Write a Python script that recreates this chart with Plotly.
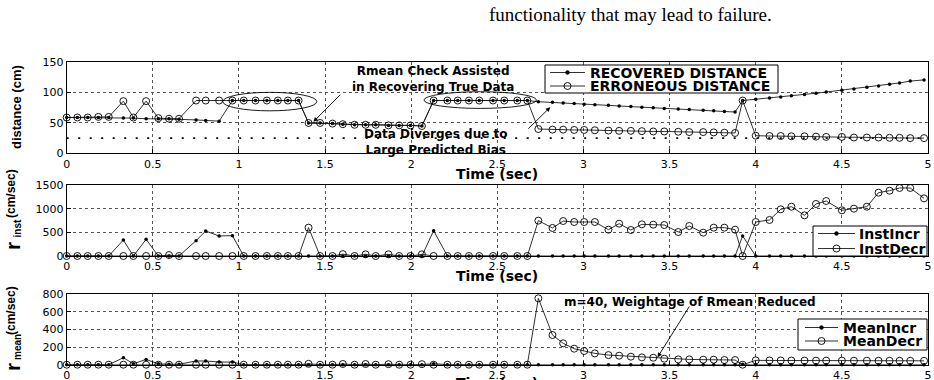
import plotly.graph_objects as go

# ---------------- data ----------------
time_s = [0.000, 0.062, 0.122, 0.184, 0.244, 0.329, 0.387, 0.461, 0.532, 0.594,
          0.652, 0.751, 0.807, 0.885, 0.962, 1.028, 1.096, 1.162, 1.226, 1.284,
          1.346, 1.404, 1.471, 1.543, 1.603, 1.671, 1.735, 1.794, 1.868, 1.930,
          1.996, 2.062, 2.130, 2.210, 2.270, 2.335, 2.395, 2.475, 2.540, 2.616,
          2.674, 2.738, 2.820, 2.882, 2.946, 3.004, 3.066, 3.145, 3.207, 3.275,
          3.339, 3.405, 3.469, 3.550, 3.614, 3.695, 3.756, 3.818, 3.880, 3.924,
          4.000, 4.080, 4.145, 4.207, 4.283, 4.350, 4.409, 4.500, 4.570, 4.645,
          4.713, 4.777, 4.835, 4.897, 4.977]

recovered_distance = [59, 59, 59, 59, 59, 58, 58, 57, 57, 57,
                      56, 55, 54, 53, 87, 87, 87, 87, 87, 87,
                      87, 50, 50, 49, 48, 47, 47, 47, 46, 46,
                      46, 45, 87, 87, 87, 87, 87, 87, 87, 87,
                      87, 85, 84, 83, 82, 81, 80, 79, 78, 77,
                      76, 75, 74, 73, 72, 71, 70, 69, 68, 87,
                      89, 91, 93, 95, 97, 99, 101, 104, 106, 109,
                      111, 114, 116, 119, 121]

erroneous_distance = [59, 59, 59, 60, 60, 86, 59, 86, 58, 57,
                      57, 87, 87, 87, 87, 87, 87, 87, 87, 87,
                      87, 50, 50, 49, 48, 47, 47, 47, 46, 46,
                      46, 45, 87, 87, 87, 87, 87, 87, 87, 87,
                      87, 40, 39, 39, 38.5, 38.5, 38, 37.5, 37, 37,
                      36.5, 36, 36, 35.5, 35, 35, 34.5, 34, 33.5, 87,
                      29, 28.5, 28.5, 28, 28, 27.5, 27, 27, 26, 26,
                      26, 25.5, 25.5, 25, 25]

distance_floor = 25

inst_incr = [0, 0, 0, 0, 0, 338, 0, 352, 0, 0,
             0, 324, 528, 423, 430, 0, 0, 0, 0, 0,
             0, 0, 0, 0, 0, 0, 0, 0, 0, 0,
             0, 0, 535, 0, 0, 0, 0, 0, 0, 0,
             0, 0, 0, 0, 0, 0, 0, 0, 0, 0,
             0, 0, 0, 0, 0, 0, 0, 0, 0, 423,
             0, 0, 0, 0, 0, 0, 0, 0, 0, 0,
             0, 0, 0, 0, 0]

inst_decr = [0, 0, 0, 0, 0, 0, 0, 0, 0, 20,
             0, 0, 0, 0, 0, 0, 0, 0, 0, 0,
             0, 599, 0, 0, 40, 0, 35, 0, 35, 0,
             0, 35, 0, 0, 0, 0, 0, 0, 0, 0,
             0, 747, 592, 739, 718, 718, 718, 556, 683, 549,
             669, 662, 655, 507, 634, 493, 599, 599, 556, 0,
             718, 761, 986, 1042, 859, 1099, 1162, 965, 1000, 1042,
             1338, 1380, 1437, 1437, 1218]

mean_incr = [0, 0, 0, 0, 0, 79, 10, 60, 10, 5,
             5, 42, 42, 30, 30, 0, 0, 0, 0, 0,
             0, 0, 0, 0, 0, 0, 0, 0, 0, 0,
             0, 0, 12, 0, 0, 0, 0, 0, 0, 0,
             0, 0, 0, 0, 0, 0, 0, 0, 0, 0,
             0, 0, 0, 0, 0, 0, 0, 0, 0, 5,
             0, 0, 0, 0, 0, 0, 0, 0, 0, 0,
             0, 0, 0, 0, 0]

mean_decr = [0, 0, 0, 0, 0, 0, 0, 0, 0, 0,
             0, 0, 0, 0, 0, 0, 0, 0, 0, 0,
             0, 10, 0, 0, 8, 0, 8, 0, 6, 0,
             0, 6, 0, 0, 0, 0, 0, 0, 0, 0,
             0, 751, 336, 242, 181, 155, 128, 109, 102, 91,
             83, 79, 68, 60, 60, 57, 57, 53, 53, 0,
             49, 48, 48, 47, 47, 46, 46, 46, 45, 45,
             45, 44, 44, 44, 44]

series_names = {
    "recovered": "RECOVERED DISTANCE", "erroneous": "ERRONEOUS DISTANCE",
    "inst_incr": "InstIncr", "inst_decr": "InstDecr",
    "mean_incr": "MeanIncr", "mean_decr": "MeanDecr",
}

x_ticks = [0, 0.5, 1, 1.5, 2, 2.5, 3, 3.5, 4, 4.5, 5]
x_tick_labels = ["0", "0.5", "1", "1.5", "2", "2.5", "3", "3.5", "4", "4.5", "5"]
dist_ticks = [0, 50, 100, 150]
inst_ticks = [0, 500, 1000, 1500]
mean_ticks = [0, 200, 400, 600, 800]

# ---------------- helpers ----------------
W, H = 934, 380
def px(x):
    return x / W
def py(y):
    return 1 - y / H

LINE = dict(color="#1a1a1a", width=0.9)
DOT = dict(symbol="circle", size=3.5, color="black")
RING = dict(symbol="circle-open", size=7, color="black", line=dict(width=0.9, color="black"))

fig = go.Figure()

def add_pair(x, y1, y2, n1, n2, xa, ya):
    fig.add_trace(go.Scatter(x=x, y=y1, name=n1, mode="lines+markers", line=LINE,
                             marker=DOT, xaxis=xa, yaxis=ya, cliponaxis=False))
    fig.add_trace(go.Scatter(x=x, y=y2, name=n2, mode="lines+markers", line=LINE,
                             marker=RING, xaxis=xa, yaxis=ya, cliponaxis=False))

fig.add_trace(go.Scatter(x=[x_ticks[0], x_ticks[-1]], y=[distance_floor, distance_floor],
                         mode="lines", line=dict(color="black", width=1.8, dash="2px,9.5px"),
                         xaxis="x", yaxis="y", hoverinfo="skip"))
add_pair(time_s, recovered_distance, erroneous_distance,
         series_names["recovered"], series_names["erroneous"], "x", "y")
add_pair(time_s, inst_incr, inst_decr, series_names["inst_incr"], series_names["inst_decr"], "x2", "y2")
add_pair(time_s, mean_incr, mean_decr, series_names["mean_incr"], series_names["mean_decr"], "x3", "y3")

TICKFONT = dict(family="DejaVu Sans", size=11, color="black")
def xaxis(anchor):
    return dict(range=[0, 5], tickvals=x_ticks, ticktext=x_tick_labels,
                domain=[px(66.7), px(928)], anchor=anchor,
                showline=True, mirror=True, linecolor="black", linewidth=1,
                ticks="inside", ticklen=4, tickcolor="black",
                showgrid=True, gridcolor="#555", griddash="3px,3px", gridwidth=0.7,
                zeroline=False, tickfont=TICKFONT, automargin=False)
def yaxis(anchor, rng, tv, top, bottom):
    return dict(range=rng, tickvals=tv, domain=[py(bottom), py(top)], anchor=anchor,
                showline=True, mirror=True, linecolor="black", linewidth=1,
                ticks="inside", ticklen=4, tickcolor="black",
                showgrid=True, gridcolor="#555", griddash="3px,3px", gridwidth=0.7,
                zeroline=False, tickfont=TICKFONT, automargin=False)

def arial(size):
    return dict(family="Liberation Sans, Arial", size=size, color="black")
TXT = dict(family="DejaVu Sans", size=12, color="black")
TIME = dict(family="DejaVu Sans", size=14, color="black")
LEGFONT = dict(family="DejaVu Sans", size=14, color="black")

def label(text, x, y, font, angle=0, align="center"):
    return dict(text=text, x=px(x), y=py(y), xref="paper", yref="paper",
                xanchor="center", yanchor="middle", textangle=angle,
                showarrow=False, font=font, align=align)

annotations = [
    dict(text="functionality that may lead to failure.", x=px(487), y=py(14),
         xref="paper", yref="paper", xanchor="left", yanchor="middle", showarrow=False,
         font=dict(family="Liberation Serif", size=19, color="black")),
    label("<b>distance (cm)</b>", 16, 107, arial(13), -90),
    # r_inst (cm/sec)
    label("<b>(cm/sec)</b>", 11, 194, arial(12), -90),
    label("<b>inst</b>", 17, 228.5, arial(10), -90),
    label("<b>r</b>", 12, 246, arial(21), -90),
    # r_mean (cm/sec)
    label("<b>(cm/sec)</b>", 11, 311, arial(12), -90),
    label("<b>mean</b>", 17, 347, arial(10), -90),
    label("<b>r</b>", 12, 367, arial(21), -90),
    label("<b>Time (sec)</b>", 497, 174, TIME),
    label("<b>Time (sec)</b>", 497, 276, TIME),
    label("<b>Time (sec)</b>", 497, 383, TIME),
    label("<b>Rmean Check Assisted<br>in Recovering True Data</b>", 433, 79, TXT),
    label("<b>Data Diverges due to<br>Large Predicted Bias</b>", 436, 142, TXT),
    label("<b>m=40, Weightage of Rmean Reduced</b>", 690, 302, TXT),
    dict(text="", x=1.432, y=52, ax=1.597, ay=99, xref="x", yref="y", axref="x", ayref="y",
         showarrow=True, arrowhead=2, arrowsize=1, arrowwidth=0.9, arrowcolor="black"),
    dict(text="", x=2.807, y=76, ax=2.671, ay=38, xref="x", yref="y", axref="x", ayref="y",
         showarrow=True, arrowhead=2, arrowsize=1, arrowwidth=0.9, arrowcolor="black"),
    dict(text="", x=3.43, y=84, ax=3.62, ay=676, xref="x3", yref="y3", axref="x3", ayref="y3",
         showarrow=True, arrowhead=2, arrowsize=1, arrowwidth=0.9, arrowcolor="black"),
]

shapes = [
    dict(type="circle", xref="x", yref="y", x0=0.906, x1=1.452, y0=70, y1=100.5,
         line=dict(color="black", width=0.9)),
    dict(type="circle", xref="x", yref="y", x0=2.074, x1=2.727, y0=74, y1=101.5,
         line=dict(color="black", width=0.9)),
]

# compact MATLAB-style legend boxes (keys drawn as shapes, labels as text)
def legend_box(box, line_x, text_x, rows):
    x0, x1, y0, y1 = box
    shapes.append(dict(type="rect", xref="paper", yref="paper",
                       x0=px(x0), x1=px(x1), y0=py(y1), y1=py(y0),
                       line=dict(color="black", width=1), fillcolor="white", layer="above"))
    for yy, name, ring in rows:
        shapes.append(dict(type="line", xref="paper", yref="paper",
                           x0=px(line_x[0]), x1=px(line_x[1]), y0=py(yy), y1=py(yy),
                           line=LINE, layer="above"))
        cx = (line_x[0] + line_x[1]) / 2
        r = 3.5 if ring else 1.8
        shapes.append(dict(type="circle", xref="paper", yref="paper",
                           xsizemode="pixel", ysizemode="pixel",
                           xanchor=px(cx), yanchor=py(yy), x0=-r, x1=r, y0=-r, y1=r,
                           line=dict(color="black", width=0.9),
                           fillcolor="rgba(0,0,0,0)" if ring else "black", layer="above"))
        annotations.append(dict(text="<b>%s</b>" % name, x=px(text_x), y=py(yy),
                                xref="paper", yref="paper", xanchor="left", yanchor="middle",
                                showarrow=False, font=LEGFONT))

legend_box((545, 778, 65, 93), (550, 585), 588,
           [(72.5, series_names["recovered"], False), (86, series_names["erroneous"], True)])
legend_box((813, 927, 226, 256), (818, 855), 857,
           [(233.5, series_names["inst_incr"], False), (248.5, series_names["inst_decr"], True)])
legend_box((798, 927, 319, 350), (805, 838), 841,
           [(327.5, series_names["mean_incr"], False), (341, series_names["mean_decr"], True)])

fig.update_layout(
    width=W, height=H, margin=dict(l=0, r=0, t=0, b=0),
    paper_bgcolor="white", plot_bgcolor="white", showlegend=False,
    xaxis=xaxis("y"), yaxis=yaxis("x", [0, 150], dist_ticks, 62.3, 153.3),
    xaxis2=xaxis("y2"), yaxis2=yaxis("x2", [0, 1500], inst_ticks, 185, 256),
    xaxis3=xaxis("y3"), yaxis3=yaxis("x3", [0, 800], mean_ticks, 294, 364.7),
    annotations=annotations, shapes=shapes,
)

fig.write_html("out.html")
